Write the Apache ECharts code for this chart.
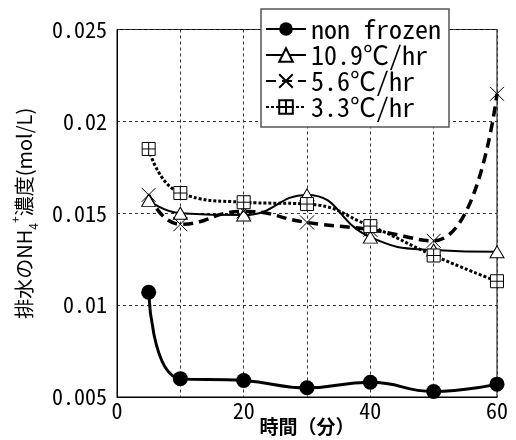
<!DOCTYPE html>
<html>
<head>
<meta charset="utf-8">
<script src="https://cdn.jsdelivr.net/npm/echarts@6/dist/echarts.min.js"></script>
<style>
html,body{margin:0;padding:0;background:#fff;}
#c{width:516px;height:440px;}
</style>
</head>
<body>
<div id="c"></div>
<script>
const times = [5, 10, 20, 30, 40, 50, 60];
const nonFrozen = [0.0107, 0.0060, 0.0059, 0.0055, 0.0058, 0.0053, 0.0057];
const rate109 = [0.0157, 0.0150, 0.0149, 0.0160, 0.0137, 0.0130, 0.0129];
const rate56 = [0.0160, 0.0144, 0.0151, 0.0145, 0.0141, 0.0135, 0.0215];
const rate33 = [0.0185, 0.0161, 0.0156, 0.0155, 0.0143, 0.0127, 0.0113];
const seriesNames = ['non frozen', '10.9℃/hr', '5.6℃/hr', '3.3℃/hr'];
const yTickValues = [0.005, 0.01, 0.015, 0.02, 0.025];
const yTickLabels = ['0.005', '0.01', '0.015', '0.02', '0.025'];
const xTickLabels = ['0', '20', '40', '60'];
const xTitle = '時間（分）';

const MONO = "'Noto Sans Mono CJK JP', 'DejaVu Sans Mono', monospace";
const CJK = "'Noto Sans CJK JP', sans-serif";

function pairs(ys) { return times.map((t, i) => [t, ys[i]]); }

const crossPath = 'path://M0,0L10,10M10,0L0,10';
const boxPlusPath = 'path://M0,0L10,0L10,10L0,10ZM5,0L5,10M0,5L10,5';

const chart = echarts.init(document.getElementById('c'), null, {renderer: 'canvas'});
chart.setOption({
  animation: false,
  backgroundColor: '#fff',
  grid: {left: 117, right: 19, top: 29.5, bottom: 43, containLabel: false, outerBoundsMode: 'none',
         show: true, borderColor: '#000', borderWidth: 1, backgroundColor: 'transparent'},
  legend: {
    orient: 'vertical',
    left: 261, top: 9,
    width: 189,
    padding: [7, 8, 7, 4],
    itemGap: 0,
    itemWidth: 40,
    itemHeight: 17,
    backgroundColor: '#fff',
    borderColor: '#555',
    borderWidth: 1.5,
    textStyle: {fontFamily: MONO, fontSize: 26, color: '#000', lineHeight: 25, padding: [0, 0, 0, 0]},
    data: seriesNames
  },
  xAxis: {
    type: 'value', min: 0, max: 60, interval: 10,
    name: xTitle, nameLocation: 'middle', nameGap: 20, nameMoveOverlap: false,
    nameTextStyle: {fontFamily: CJK, fontSize: 19, fontWeight: 'bold', color: '#000'},
    axisLine: {show: true, lineStyle: {color: '#000', width: 1}},
    axisTick: {show: false},
    axisLabel: {
      fontFamily: MONO, fontSize: 22, color: '#000', margin: 3,
      formatter: v => { const s = String(Math.round(v)); return xTickLabels.indexOf(s) >= 0 ? s : ''; }
    },
    splitLine: {show: true, lineStyle: {color: '#333', type: [3, 3], width: 1}}
  },
  yAxis: {
    type: 'value', min: 0.005, max: 0.025, interval: 0.005,
    name: '{a|排水のNH}{sub|4}{sup|+}{a|濃度(mol/L)}',
    nameLocation: 'middle', nameGap: 80, nameRotate: 90, nameMoveOverlap: false,
    nameTextStyle: {
      fontFamily: CJK, fontSize: 20, color: '#000',
      rich: {
        a: {fontFamily: CJK, fontSize: 20, color: '#000', lineHeight: 26, verticalAlign: 'middle'},
        sub: {fontFamily: CJK, fontSize: 12, color: '#000', lineHeight: 26, verticalAlign: 'bottom', padding: [0, 0, -2, 0]},
        sup: {fontFamily: CJK, fontSize: 12, color: '#000', lineHeight: 26, verticalAlign: 'top', padding: [-2, 0, 0, 0]}
      }
    },
    axisLine: {show: true, lineStyle: {color: '#000', width: 1}},
    axisTick: {show: false},
    axisLabel: {
      fontFamily: MONO, fontSize: 22, color: '#000', margin: 10,
      formatter: v => {
        for (let i = 0; i < yTickValues.length; i++) if (Math.abs(v - yTickValues[i]) < 1e-9) return yTickLabels[i];
        return '';
      }
    },
    splitLine: {show: true, lineStyle: {color: '#333', type: [3, 3], width: 1}}
  },
  series: [
    {
      name: seriesNames[0], type: 'line', smooth: true, data: pairs(nonFrozen),
      symbol: 'circle', symbolSize: 15,
      lineStyle: {color: '#000', width: 3},
      itemStyle: {color: '#000', borderColor: '#000', borderWidth: 0}
    },
    {
      name: seriesNames[1], type: 'line', smooth: true, data: pairs(rate109),
      symbol: 'triangle', symbolSize: [14, 12],
      lineStyle: {color: '#000', width: 2},
      itemStyle: {color: '#fff', borderColor: '#000', borderWidth: 1}
    },
    {
      name: seriesNames[2], type: 'line', smooth: true, data: pairs(rate56),
      symbol: crossPath, symbolSize: 14,
      lineStyle: {color: '#000', width: 3.5, type: [10, 6]},
      itemStyle: {color: 'none', borderColor: '#000', borderWidth: 1}
    },
    {
      name: seriesNames[3], type: 'line', smooth: true, data: pairs(rate33),
      symbol: boxPlusPath, symbolSize: 13,
      lineStyle: {color: '#000', width: 3, type: [3, 2]},
      itemStyle: {color: '#fff', borderColor: '#000', borderWidth: 1}
    }
  ]
});
</script>
</body>
</html>
